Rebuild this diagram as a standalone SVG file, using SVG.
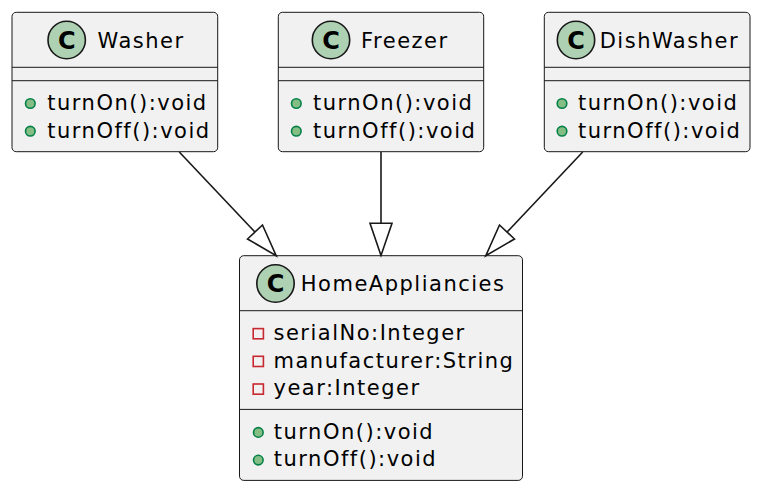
<svg xmlns="http://www.w3.org/2000/svg" width="762" height="492" viewBox="0 0 762 492">
<defs>
<style>
.box{fill:#F1F1F1;stroke:#181818;stroke-width:1}
.sep{stroke:#181818;stroke-width:1}
.ci{fill:#ADD1B2;stroke:#181818;stroke-width:1.6}
.cl{font-family:"DejaVu Sans",sans-serif;font-size:24px;font-weight:bold;fill:#000;text-anchor:middle}
.t{font-family:"DejaVu Sans",sans-serif;font-size:21px;letter-spacing:1.5px;fill:#000}
.pub{fill:#84BE84;stroke:#038048;stroke-width:1.6}
.prv{fill:none;stroke:#C82930;stroke-width:1.6}
.edge{stroke:#181818;stroke-width:1.6;fill:none}
.head{stroke:#181818;stroke-width:1.6;fill:none;stroke-linejoin:miter}
</style>
</defs>
<rect width="762" height="492" fill="#FFFFFF"/>
<g id="Washer">
<rect class="box" x="12" y="12.3" width="205.7" height="139.4" rx="4.2"/>
<circle class="ci" cx="66.7" cy="40" r="18.7"/>
<text class="cl" x="66.7" y="48.7">C</text>
<text class="t" x="97.5" y="47.7">Washer</text>
<line class="sep" x1="12" y1="67.3" x2="217.7" y2="67.3"/>
<line class="sep" x1="12" y1="80.7" x2="217.7" y2="80.7"/>
<circle class="pub" cx="30.3" cy="103.5" r="4.8"/>
<text class="t" x="47.3" y="110">turnOn():void</text>
<circle class="pub" cx="30.3" cy="131.2" r="4.8"/>
<text class="t" x="47.3" y="137.7">turnOff():void</text>
</g>
<g id="Freezer">
<rect class="box" x="278.3" y="12.3" width="205.4" height="139.4" rx="4.2"/>
<circle class="ci" cx="331" cy="40" r="18.7"/>
<text class="cl" x="331" y="48.7">C</text>
<text class="t" x="361" y="47.7">Freezer</text>
<line class="sep" x1="278.3" y1="67.3" x2="483.7" y2="67.3"/>
<line class="sep" x1="278.3" y1="80.7" x2="483.7" y2="80.7"/>
<circle class="pub" cx="296.3" cy="103.5" r="4.8"/>
<text class="t" x="313" y="110">turnOn():void</text>
<circle class="pub" cx="296.3" cy="131.2" r="4.8"/>
<text class="t" x="313" y="137.7">turnOff():void</text>
</g>
<g id="DishWasher">
<rect class="box" x="544.3" y="12.3" width="205.7" height="139.4" rx="4.2"/>
<circle class="ci" cx="576" cy="40" r="18.7"/>
<text class="cl" x="576" y="48.7">C</text>
<text class="t" x="599.7" y="47.7">DishWasher</text>
<line class="sep" x1="544.3" y1="67.3" x2="750" y2="67.3"/>
<line class="sep" x1="544.3" y1="80.7" x2="750" y2="80.7"/>
<circle class="pub" cx="562" cy="103.5" r="4.8"/>
<text class="t" x="578" y="110">turnOn():void</text>
<circle class="pub" cx="562" cy="131.2" r="4.8"/>
<text class="t" x="578" y="137.7">turnOff():void</text>
</g>
<g id="HomeAppliancies">
<rect class="box" x="239.5" y="255.7" width="283" height="224.7" rx="4.2"/>
<circle class="ci" cx="275.5" cy="283.5" r="18.7"/>
<text class="cl" x="275.5" y="292.2">C</text>
<text class="t" x="300.8" y="291.3">HomeAppliancies</text>
<line class="sep" x1="239.5" y1="310.7" x2="522.5" y2="310.7"/>
<rect class="prv" x="253.2" y="328.6" width="10.2" height="10.2"/>
<text class="t" x="273.5" y="340">serialNo:Integer</text>
<rect class="prv" x="253.2" y="356.3" width="10.2" height="10.2"/>
<text class="t" x="273.5" y="367.7">manufacturer:String</text>
<rect class="prv" x="253.2" y="384" width="10.2" height="10.2"/>
<text class="t" x="273.5" y="395.4">year:Integer</text>
<line class="sep" x1="239.5" y1="409.4" x2="522.5" y2="409.4"/>
<circle class="pub" cx="258.3" cy="432.4" r="4.8"/>
<text class="t" x="273.8" y="438.7">turnOn():void</text>
<circle class="pub" cx="258.3" cy="460.1" r="4.8"/>
<text class="t" x="273.8" y="466.4">turnOff():void</text>
</g>
<g id="connectors">
<line class="edge" x1="179.3" y1="152" x2="254.9" y2="232"/>
<polygon class="head" points="276.2,255.7 247.5,239 262.5,225"/>
<line class="edge" x1="381" y1="152" x2="381" y2="223.3"/>
<polygon class="head" points="381,255.4 370,223.3 392,223.3"/>
<line class="edge" x1="582.7" y1="152" x2="507.1" y2="232"/>
<polygon class="head" points="485.8,255.7 514.5,239 499.5,225"/>
</g>
</svg>
